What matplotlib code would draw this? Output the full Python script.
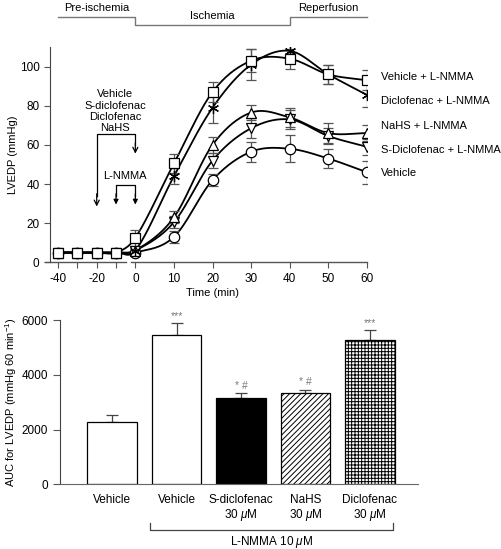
import numpy as np
import matplotlib
matplotlib.use('Agg')
import matplotlib.pyplot as plt
import matplotlib.transforms as mtransforms

plt.rcParams['font.family'] = ['Liberation Sans', 'DejaVu Sans']
plt.rcParams['font.size'] = 8
plt.rcParams['mathtext.fontset'] = 'custom'
plt.rcParams['mathtext.rm'] = 'Liberation Sans'
plt.rcParams['mathtext.it'] = 'Liberation Sans:italic'
plt.rcParams['hatch.linewidth'] = 0.7

# ---- top panel data (LVEDP, mmHg) ----
time = [-40, -30, -20, -10, 0, 10, 20, 30, 40, 50, 60]
vehicle = [5, 5, 5, 5, 5, 13, 42, 56.5, 58, 53, 46]
vehicle_err = [1, 1, 1, 1, 1.5, 3, 3, 5, 7, 5, 6]
veh_lnmma = [5, 5, 5, 5, 12.5, 50.5, 87, 103, 104, 96, 93]
veh_lnmma_err = [1, 1, 1, 1, 4, 5, 5, 6, 5, 5, 5]
dic_lnmma = [5, 5, 5, 5, 6, 44, 79, 101, 108, 96, 85.5]
dic_lnmma_err = [1, 1, 1, 1, 2, 4, 8, 8, 5, 5, 6]
nahs_lnmma = [5, 5, 5, 5, 6, 23, 60, 76.5, 74, 66, 66]
nahs_lnmma_err = [1, 1, 1, 1, 2, 3, 4, 4, 5, 5, 4]
sdic_lnmma = [5, 5, 5, 5, 6, 20.5, 52, 68.5, 73, 64.5, 59]
sdic_lnmma_err = [1, 1, 1, 1, 2, 3, 4, 5, 5, 4, 4]

# ---- bottom panel data (AUC) ----
groups = ['Vehicle', 'Vehicle', 'S-diclofenac\n30 $\\mu$M', 'NaHS\n30 $\\mu$M', 'Diclofenac\n30 $\\mu$M']
auc = [2260, 5460, 3160, 3320, 5280]
auc_err = [260, 430, 180, 140, 360]
signif = ['', '***', '* #', '* #', '***']


def tx(t):
    # pre-ischemia part of the axis is drawn at half scale
    t = np.asarray(t, dtype=float)
    return np.where(t < 0, t / 2.0, t)


def smooth(x, y, n=30):
    x = np.asarray(x, float)
    y = np.asarray(y, float)
    m = np.zeros_like(y)
    for i in range(len(x)):
        if i == 0:
            m[i] = (y[1] - y[0]) / (x[1] - x[0])
        elif i == len(x) - 1:
            m[i] = (y[-1] - y[-2]) / (x[-1] - x[-2])
        else:
            m[i] = (y[i + 1] - y[i - 1]) / (x[i + 1] - x[i - 1])
    xs, ys = [], []
    for i in range(len(x) - 1):
        h = x[i + 1] - x[i]
        s = np.linspace(0, 1, n)
        h00 = 2 * s**3 - 3 * s**2 + 1
        h10 = s**3 - 2 * s**2 + s
        h01 = -2 * s**3 + 3 * s**2
        h11 = s**3 - s**2
        xs.append(x[i] + s * h)
        ys.append(h00 * y[i] + h10 * h * m[i] + h01 * y[i + 1] + h11 * h * m[i + 1])
    return np.concatenate(xs), np.concatenate(ys)


fig = plt.figure(figsize=(5.01, 5.49), dpi=100)

# ================= top panel =================
ax = fig.add_axes([0.0898, 0.5222, 0.6427, 0.3922])
xt = tx(time)
series = [
    (vehicle, vehicle_err, 'o', 7.5),
    (sdic_lnmma, sdic_lnmma_err, 'v', 7.5),
    (nahs_lnmma, nahs_lnmma_err, '^', 7.5),
    (dic_lnmma, dic_lnmma_err, (6, 2, 0), 8),
    (veh_lnmma, veh_lnmma_err, 's', 7),
]
for vals, errs, mk, ms in series:
    xs, ys = smooth(xt, vals)
    ax.plot(xs, ys, color='black', lw=1.3, zorder=2)
    ax.errorbar(xt, vals, yerr=errs, fmt='none', ecolor='#555555', elinewidth=0.9,
                capsize=3.5, capthick=0.9, zorder=3)
    ax.plot(xt, vals, linestyle='none', marker=mk, ms=ms, mfc='white', mec='black',
            mew=0.9, zorder=4)

ax.set_xlim(-23.4, 60)
ax.set_ylim(0, 110)
ax.set_yticks([0, 20, 40, 60, 80, 100])
ax.set_xticks(tx([-40, -20, 0, 10, 20, 30, 40, 50, 60]))
ax.set_xticklabels(['-40', '-20', '0', '10', '20', '30', '40', '50', '60'])
ax.set_xticks(tx([-30, -10]), minor=True)
ax.tick_params(which='both', direction='out', length=4, width=0.8, color='#555555', labelsize=8.5)
ax.spines['top'].set_visible(False)
ax.spines['right'].set_visible(False)
ax.spines['bottom'].set_visible(False)
ax.spines['left'].set_position(('data', -22.1))
ax.spines['left'].set_color('#444444')
# broken time axis
bt = ax.get_xaxis_transform()
ax.plot([-23.4, -2.3], [0, 0], color='#555555', lw=1, transform=bt, clip_on=False)
ax.plot([-1.1, 60], [0, 0], color='#555555', lw=1, transform=bt, clip_on=False)
ax.set_ylabel('LVEDP (mmHg)')
ax.yaxis.set_label_coords(-0.084, 0.5)
ax.set_xlabel('Time (min)')
ax.xaxis.set_label_coords(0.52, -0.12)

# series labels
labels = ['Vehicle + L-NMMA', 'Diclofenac + L-NMMA', 'NaHS + L-NMMA',
          'S-Diclofenac + L-NMMA', 'Vehicle']
label_y = [94.6, 82.2, 69.8, 57.6, 45.8]
for lab, ly in zip(labels, label_y):
    ax.text(63.6, ly, lab, ha='left', va='center', clip_on=False)

# treatment arrows
ax.text(-5.2, 77.2, 'Vehicle\nS-diclofenac\nDiclofenac\nNaHS', ha='center', va='center',
        linespacing=1.15)
ax.plot([-10, -10, 0, 0], [34, 65.7, 65.7, 60], color='black', lw=0.9)
ax.annotate('', xy=(-10, 28.5), xytext=(-10, 35), arrowprops=dict(arrowstyle='->', lw=0.9,
            mutation_scale=9, shrinkA=0, shrinkB=0))
ax.annotate('', xy=(0, 55.5), xytext=(0, 61), arrowprops=dict(arrowstyle='->', lw=0.9,
            mutation_scale=9, shrinkA=0, shrinkB=0))
ax.text(-2.6, 44, 'L-NMMA', ha='center', va='center')
ax.plot([-5, -5, 0, 0], [34, 39.3, 39.3, 34], color='black', lw=0.9)
for xa in (-5, 0):
    ax.annotate('', xy=(xa, 29.5), xytext=(xa, 35), arrowprops=dict(arrowstyle='-|>', lw=0.9,
                mutation_scale=7, color='black', shrinkA=0, shrinkB=0))

# phase header
hb = mtransforms.blended_transform_factory(ax.transData, fig.transFigure)
hy, ly2 = 0.9685, 0.9545
fig.add_artist(plt.Line2D([-20, 0, 0, 40, 40, 60], [hy, hy, ly2, ly2, hy, hy],
                          transform=hb, color='#777777', lw=1))
fig.text(-10, 0.986, 'Pre-ischemia', ha='center', va='center', transform=hb)
fig.text(20, 0.971, 'Ischemia', ha='center', va='center', transform=hb)
fig.text(50, 0.986, 'Reperfusion', ha='center', va='center', transform=hb)

# ================= bottom panel =================
bx = fig.add_axes([0.1198, 0.1179, 0.7145, 0.2992])
pos = np.arange(len(auc))
colors = ['white', 'white', 'black', 'white', 'white']
hatches = [None, None, None, '//////', '+++++']
for p, v, c, h in zip(pos, auc, colors, hatches):
    bx.bar(p, v, width=0.76, color=c, edgecolor='black', linewidth=0.9, hatch=h, zorder=2)
bx.errorbar(pos, auc, yerr=[np.zeros(len(auc)), auc_err], fmt='none', ecolor='#444444',
            elinewidth=0.9, capsize=4.5, capthick=0.9, zorder=1)
for p, v, e, s in zip(pos, auc, auc_err, signif):
    if s:
        bx.text(p, v + e + 80, s, ha='center', va='bottom', color='#777777', fontsize=7.5)

bx.set_xlim(-0.806, 4.744)
bx.set_ylim(0, 6000)
bx.set_yticks([0, 2000, 4000, 6000])
bx.set_xticks(pos)
bx.set_xticklabels(groups, linespacing=1.1)
bx.tick_params(axis='x', length=0, pad=7, labelsize=8.5)
bx.tick_params(axis='y', direction='out', length=5, width=0.8, color='#555555', labelsize=8.5)
bx.spines['top'].set_visible(False)
bx.spines['right'].set_visible(False)
bx.spines['left'].set_color('#444444')
bx.spines['bottom'].set_color('#666666')
bx.set_ylabel('AUC for LVEDP (mmHg 60 min$^{\\mathregular{-1}}$)')
bx.yaxis.set_label_coords(-0.115, 0.5)

# L-NMMA bracket under the bars
bb = bx.get_xaxis_transform()
bx.plot([0.59, 0.59, 4.36, 4.36], [-0.236, -0.278, -0.278, -0.236], color='#444444', lw=0.9,
        transform=bb, clip_on=False)
bx.text(2.48, -0.349, 'L-NMMA 10 $\\mu$M', ha='center', va='center', transform=bb,
        fontsize=8.5)

fig.savefig('out.png', dpi=100)
